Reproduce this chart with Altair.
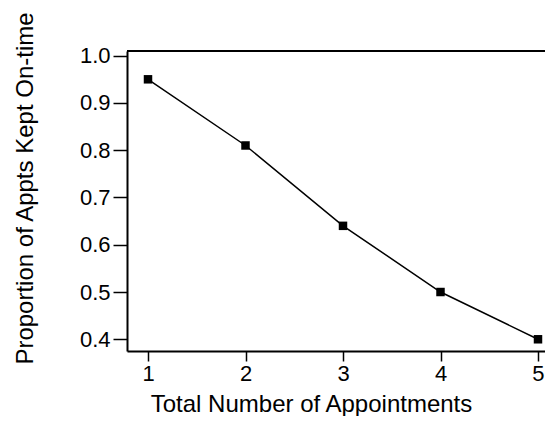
import altair as alt
import pandas as pd

appointments = [1, 2, 3, 4, 5]
proportion = [0.95, 0.81, 0.64, 0.50, 0.40]
x_ticks = [1, 2, 3, 4, 5]
y_ticks = [0.4, 0.5, 0.6, 0.7, 0.8, 0.9, 1.0]

df = pd.DataFrame({"n": appointments, "p": proportion})

FONT = "Liberation Sans, Arial, Helvetica, sans-serif"
W, H = 418, 300

xs = alt.Scale(domain=[0.7846, 5.0718], nice=False, zero=False)
ys = alt.Scale(domain=[0.3752, 1.0099], nice=False, zero=False)

x_enc = alt.X(
    "n:Q", scale=xs,
    axis=alt.Axis(values=x_ticks, format="d", title="Total Number of Appointments",
                  grid=False, tickSize=10, labelPadding=2,
                  titleX=184, titleY=60, titleBaseline="alphabetic", titleAlign="center"),
)
y_enc = alt.Y(
    "p:Q", scale=ys,
    axis=alt.Axis(values=y_ticks, format=".1f", title="Proportion of Appts Kept On-time",
                  grid=False, tickSize=14, labelPadding=3,
                  titleX=-95, titleY=137, titleBaseline="alphabetic", titleAlign="center",
                  titleAngle=270),
)

line = alt.Chart(df).mark_line(color="black", strokeWidth=1.5).encode(x=x_enc, y=y_enc)
pts = alt.Chart(df).mark_square(color="black", opacity=1, size=72).encode(x="n:Q", y="p:Q")
top = alt.Chart(df).mark_rule(color="black", strokeWidth=2).encode(
    x=alt.value(0), x2=alt.value(W), y=alt.value(0)
)

chart = (
    alt.layer(line, pts, top)
    .properties(width=W, height=H, autosize=alt.AutoSizeParams(type="none"),
                padding={"left": 119, "top": 43, "right": 0, "bottom": 65})
    .configure_view(stroke=None)
    .configure_axis(domainColor="black", domainWidth=2, tickColor="black", tickWidth=1.5,
                    labelFont=FONT, labelFontSize=22, labelColor="black",
                    titleFont=FONT, titleFontSize=24, titleFontWeight="normal", titleColor="black")
)

chart.save("out.html", embed_options={"renderer": "svg", "actions": False})
